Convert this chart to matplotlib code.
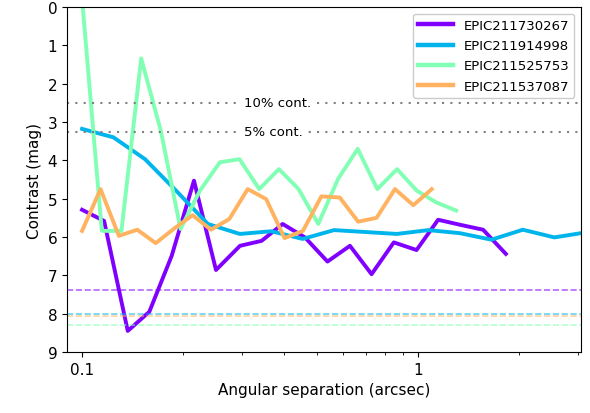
import matplotlib
matplotlib.use('Agg')
import matplotlib.pyplot as plt
import numpy as np

names = ['EPIC211730267', 'EPIC211914998', 'EPIC211525753', 'EPIC211537087']

# separations (arcsec) and contrast curves (mag)
sep_a = [0.100, 0.1163, 0.1368, 0.1586, 0.1849, 0.2154, 0.2505, 0.2953, 0.3425, 0.3957,
         0.461, 0.538, 0.6277, 0.728, 0.848, 0.991, 1.149, 1.334, 1.564, 1.828]
mag_a = [5.29, 5.58, 8.45, 7.95, 6.49, 4.53, 6.86, 6.23, 6.10, 5.66,
         6.01, 6.64, 6.23, 6.97, 6.14, 6.34, 5.55, 5.68, 5.81, 6.44]

sep_b = [0.100, 0.124, 0.154, 0.191, 0.237, 0.295, 0.366, 0.454, 0.563, 0.699,
         0.866, 1.075, 1.334, 1.656, 2.054, 2.549, 3.162]
mag_b = [3.18, 3.40, 3.97, 4.80, 5.66, 5.92, 5.85, 6.05, 5.82, 5.87,
         5.92, 5.82, 5.90, 6.07, 5.81, 6.01, 5.88]

sep_c = [0.100, 0.1145, 0.131, 0.150, 0.1716, 0.1964, 0.2248, 0.2573, 0.2944, 0.337,
         0.3857, 0.4414, 0.5052, 0.5782, 0.6618, 0.7574, 0.8669, 0.992, 1.136, 1.300]
mag_c = [-0.2, 5.84, 5.84, 1.34, 3.23, 5.79, 4.78, 4.05, 3.97, 4.75,
         4.23, 4.75, 5.66, 4.49, 3.70, 4.75, 4.23, 4.79, 5.10, 5.31]

sep_d = [0.100, 0.1135, 0.1287, 0.146, 0.1657, 0.188, 0.2133, 0.242, 0.2745, 0.3114,
         0.3533, 0.4008, 0.4547, 0.5159, 0.5853, 0.664, 0.7533, 0.8546, 0.9695, 1.100]
mag_d = [5.84, 4.75, 5.97, 5.81, 6.16, 5.78, 5.43, 5.81, 5.53, 4.75,
         5.01, 6.03, 5.84, 4.94, 4.97, 5.60, 5.50, 4.75, 5.17, 4.75]

# background limits (dashed)
limits = [7.37, 8.01, 8.29, 8.07]

# contamination levels
cont_mag = [2.5, 3.25]
cont_txt = ['10% cont.', '5% cont.']

seps = [sep_a, sep_b, sep_c, sep_d]
mags = [mag_a, mag_b, mag_c, mag_d]
colors = plt.cm.rainbow([0.0, 0.25, 0.5, 0.75])

fig = plt.figure(figsize=(5.9, 4.14), dpi=100)
ax = fig.add_axes([0.1136, 0.1473, 0.8711, 0.8334])

for s, m, c, n in zip(seps, mags, colors, names):
    ax.plot(s, m, color=c, lw=2.8, label=n)

for lim, c in zip(limits, colors):
    ax.axhline(lim, color=c, lw=1.2, ls='--', alpha=0.6)

for cm, t in zip(cont_mag, cont_txt):
    ax.axhline(cm, color='gray', lw=1.5, ls=(0, (1, 3)))
    ax.text(0.3033, cm, t, fontsize=9.5, ha='left', va='center',
            bbox=dict(facecolor='white', edgecolor='none', pad=4))

ax.set_xscale('log')
ax.set_xlim(0.0902, 3.06)
ax.set_ylim(9, 0)
ax.set_yticks(range(10))
ax.set_xticks([0.1, 1])
ax.set_xticklabels(['0.1', '1'])
ax.tick_params(labelsize=11)
ax.set_xlabel('Angular separation (arcsec)', fontsize=11)
ax.set_ylabel('Contrast (mag)', fontsize=11)

leg = ax.legend(loc='upper right', fontsize=9.5, handlelength=2.6, framealpha=1,
                labelspacing=0.55)
for l in leg.get_lines():
    l.set_linewidth(3.2)

fig.savefig('out.png', dpi=100)
